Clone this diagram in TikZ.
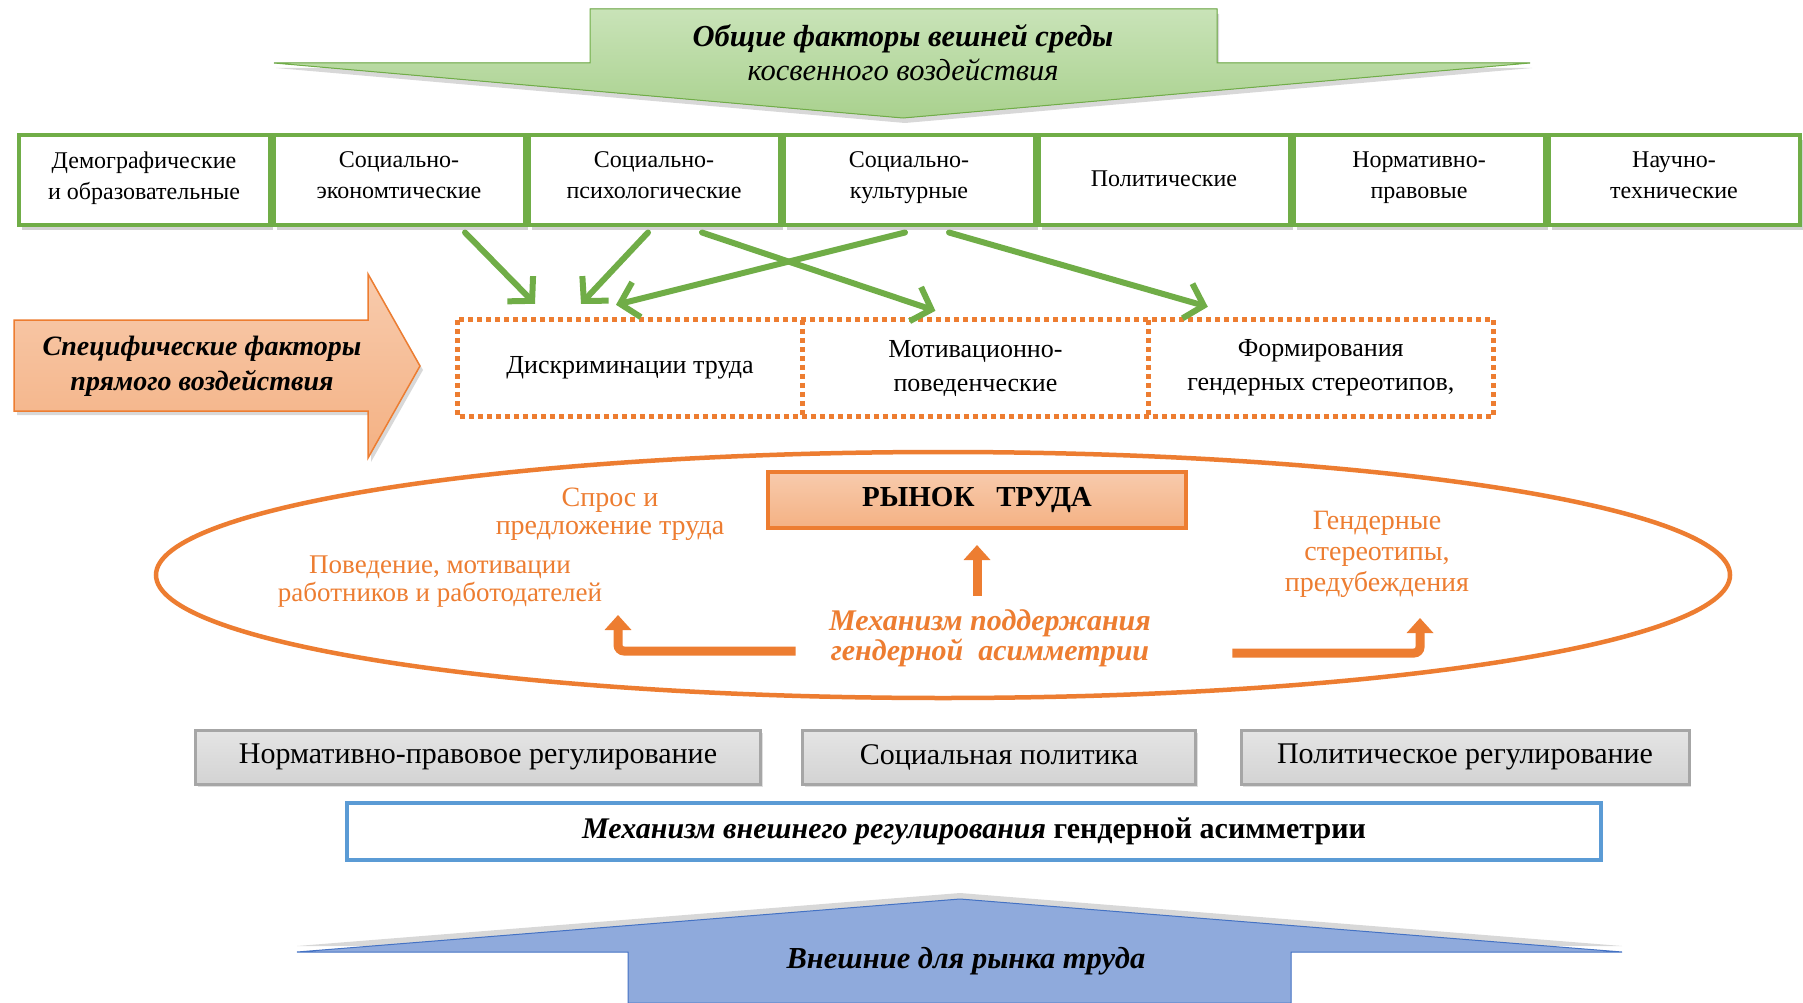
\documentclass[tikz,border=0pt]{standalone}
\usepackage{fontspec}
\setmainfont{Liberation Serif}
\usepackage{xcolor}
\usepackage{tikz}
\usetikzlibrary{arrows.meta, positioning, shadows}

\definecolor{factgreen}{HTML}{70AD47}
\definecolor{lightgreen}{HTML}{C9E3B8}
\definecolor{midgreen}{HTML}{A9D18E}
\definecolor{mkorange}{HTML}{ED7D31}
\definecolor{salmon}{HTML}{F4B183}
\definecolor{lightsalmon}{HTML}{F8CBAD}
\definecolor{regblue}{HTML}{5B9BD5}
\definecolor{extblue}{HTML}{8FAADC}
\definecolor{extblueline}{HTML}{4472C4}
\definecolor{reggray}{HTML}{D3D3D3}
\definecolor{reggrayline}{HTML}{A6A6A6}

\tikzset{
  factorbox/.style={draw=factgreen, line width=4pt, fill=white, minimum width=251pt,
    minimum height=89pt, align=center, inner sep=2pt, font=\fontsize{24}{31}\selectfont,
    execute at begin node=\strut, execute at end node=\strut,
    drop shadow={shadow xshift=3pt, shadow yshift=-5pt, opacity=0.35}},
  speccell/.style={minimum width=345pt, minimum height=96pt, align=center,
    inner sep=0pt, font=\fontsize{26}{34}\selectfont},
  dotline/.style={draw=mkorange, line width=5pt, dash pattern=on 5pt off 4pt},
  greenarrow/.style={draw=factgreen, line width=6pt, line cap=round,
    -{Straight Barb[length=17pt, width=36pt]}},
  blockarrow/.style={draw=mkorange, line width=9pt, -{Triangle[length=15pt, width=26pt]}},
  orangelabel/.style={text=mkorange, align=center, font=\fontsize{27}{28}\selectfont},
  regbox/.style={draw=reggrayline, line width=3pt, top color=reggray!60, bottom color=reggray,
    minimum height=54pt, font=\fontsize{30}{32}\selectfont,
    drop shadow={shadow xshift=2pt, shadow yshift=-3pt, opacity=0.25}},
}

\begin{document}
\begin{tikzpicture}[x=1pt, y=-1pt]
    \useasboundingbox (0,0) rectangle (1803,1003);
    \fill[white] (0,0) rectangle (1803,1003);

    % Top arrow: general factors
    \filldraw[draw=factgreen, line width=1pt, top color=lightgreen, bottom color=midgreen,
        drop shadow={shadow xshift=2pt, shadow yshift=-5pt, opacity=0.3}]
        (590,9) -- (1217,9) -- (1217,63) -- (1530,63) -- (903,118) -- (274,63) -- (590,63) -- cycle;
    \node[align=center, font=\fontsize{30.5}{34}\selectfont] (general) at (903,53)
        {\textbf{\textit{Общие факторы вешней среды}}\\\textit{косвенного воздействия}};

    % Row of factors
    \node[factorbox] (f1) at (144,180) {Демографические\\и образовательные};
    \node[factorbox, right=0pt of f1] (f2) {Социально-\\экономтические};
    \node[factorbox, right=0pt of f2] (f3) {Социально-\\психологические};
    \node[factorbox, right=0pt of f3] (f4) {Социально-\\культурные};
    \node[factorbox, right=0pt of f4] (f5) {Политические};
    \node[factorbox, right=0pt of f5] (f6) {Нормативно-\\правовые};
    \node[factorbox, right=0pt of f6] (f7) {Научно-\\технические};

    % Specific factors arrow
    \filldraw[draw=mkorange, line width=1.5pt, top color=lightsalmon, bottom color=salmon,
        drop shadow={shadow xshift=3pt, shadow yshift=-4pt, opacity=0.3}]
        (14,320) -- (368,320) -- (368,274) -- (420,366) -- (368,458) -- (368,411) -- (14,411) -- cycle;
    \node[align=center, font=\fontsize{28}{35}\bfseries\itshape\selectfont] (specific) at (202,366)
        {Специфические факторы\\прямого воздействия};

    % Dotted frame with three cells
    \node[speccell] (s1) at (630,368) {Дискриминации труда};
    \node[speccell, right=0pt of s1] (s2) {Мотивационно-\\поведенческие};
    \node[speccell, right=0pt of s2] (s3) {Формирования\\гендерных стереотипов,};
    \draw[dotline] (s1.north west) rectangle (s3.south east);
    \draw[dotline] (s1.north east) -- (s1.south east);
    \draw[dotline] (s2.north east) -- (s2.south east);

    % Green arrows
    \draw[greenarrow] ([xshift=66pt, yshift=-6pt]f2.south) -- ([xshift=-95pt, yshift=16pt]s1.north);
    \draw[greenarrow] ([xshift=-6pt, yshift=-6pt]f3.south) -- ([xshift=-49pt, yshift=16pt]s1.north);
    \draw[greenarrow] ([xshift=-4pt, yshift=-6pt]f4.south) -- ([xshift=-14pt, yshift=15pt]s1.north);
    \draw[greenarrow] ([xshift=48pt, yshift=-6pt]f3.south) -- ([xshift=-40pt, yshift=9pt]s2.north);
    \draw[greenarrow] ([xshift=40pt, yshift=-6pt]f4.south) -- ([xshift=-113pt, yshift=13pt]s3.north);

    % Labour market
    \draw[mkorange, line width=4.5pt] (943,575) ellipse [x radius=787, y radius=123];
    \node[draw=mkorange, line width=4pt, top color=lightsalmon, bottom color=salmon,
        minimum width=418pt, minimum height=56pt, font=\fontsize{29}{32}\bfseries\selectfont]
        (market) at (977,500) {РЫНОК \ \ ТРУДА};

    \node[orangelabel, font=\fontsize{28}{28}\selectfont] (demand) at (610,514) {Спрос и\\предложение труда};
    \node[orangelabel] (behav) at (440,582) {Поведение, мотивации\\работников и работодателей};
    \node[orangelabel, font=\fontsize{28}{31}\selectfont] (stereo) at (1377,554)
        {Гендерные\\стереотипы,\\предубеждения};
    \node[orangelabel, font=\fontsize{30}{30}\bfseries\itshape\selectfont] (mech) at (990,638)
        {Механизм поддержания\\гендерной\ \ асимметрии};

    \coordinate (lefttip) at (618,615);
    \coordinate (righttip) at (1420,618);
    \draw[blockarrow] ([yshift=10pt]mech.north -| market.south) -- ([yshift=-15pt]market.south);
    \draw[blockarrow, rounded corners=6pt] ([xshift=-30pt, yshift=-13pt]mech.west) -| (lefttip);
    \draw[blockarrow, rounded corners=6pt] ([xshift=78pt, yshift=-15pt]mech.east) -| (righttip);

    % Regulation boxes
    \node[regbox, minimum width=565pt] (g1) at (478,757) {Нормативно-правовое регулирование};
    \node[regbox, minimum width=393pt] (g2) at (999,757) {Социальная политика};
    \node[regbox, minimum width=448pt] (g3) at (1465,757) {Политическое регулирование};

    \node[draw=regblue, line width=4pt, fill=white, minimum width=1254pt, minimum height=57pt,
        font=\fontsize{30}{32}\selectfont] (external) at (974,831)
        {\textbf{\textit{Механизм внешнего регулирования}} \textbf{гендерной асимметрии}};

    % Bottom arrow
    \filldraw[draw=extblueline, line width=1pt, fill=extblue,
        drop shadow={shadow xshift=0pt, shadow yshift=6pt, opacity=0.3}]
        (628,1003) -- (628,952) -- (297,952) -- (960,899) -- (1622,952) -- (1291,952) -- (1291,1003) -- cycle;
    \node[font=\fontsize{30.5}{32}\bfseries\itshape\selectfont] (outside) at (966,961) {Внешние для рынка труда};

\end{tikzpicture}
\end{document}
